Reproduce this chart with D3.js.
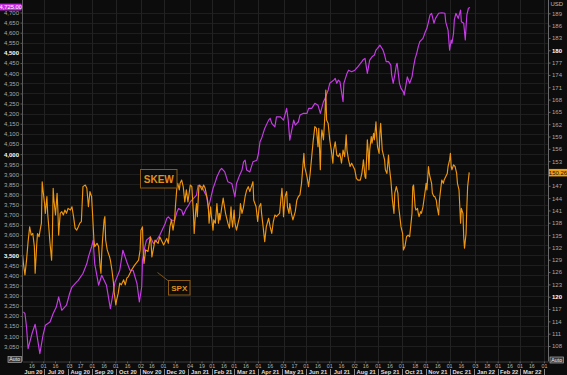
<!DOCTYPE html>
<html><head><meta charset="utf-8">
<script src="https://cdn.jsdelivr.net/npm/d3@7"></script>
<style>html,body{margin:0;padding:0;background:#0c0c0c;overflow:hidden}svg{display:block}</style>
</head><body><svg id="c" width="567" height="375"></svg>
<script>
const spx = [["2020-06-05",3220],["2020-06-07",3212],["2020-06-09",3145],["2020-06-11",3038],["2020-06-16",3113],["2020-06-20",3159],["2020-06-22",3113],["2020-06-26",3014],["2020-06-30",3104],["2020-07-03",3154],["2020-07-09",3170],["2020-07-13",3212],["2020-07-17",3244],["2020-07-20",3294],["2020-07-24",3228],["2020-07-30",3253],["2020-08-03",3311],["2020-08-06",3343],["2020-08-12",3368],["2020-08-14",3376],["2020-08-20",3410],["2020-08-25",3459],["2020-08-27",3492],["2020-08-31",3541],["2020-09-02",3574],["2020-09-04",3459],["2020-09-09",3352],["2020-09-13",3401],["2020-09-19",3352],["2020-09-24",3236],["2020-09-30",3368],["2020-10-06",3426],["2020-10-10",3525],["2020-10-15",3467],["2020-10-19",3426],["2020-10-23",3426],["2020-10-28",3360],["2020-10-31",3269],["2020-11-03",3343],["2020-11-04",3475],["2020-11-07",3541],["2020-11-09",3574],["2020-11-14",3591],["2020-11-18",3558],["2020-11-22",3574],["2020-11-26",3599],["2020-12-03",3657],["2020-12-05",3682],["2020-12-07",3690],["2020-12-11",3673],["2020-12-15",3673],["2020-12-18",3714],["2020-12-20",3731],["2020-12-24",3723],["2020-12-26",3698],["2020-12-30",3731],["2021-01-02",3748],["2021-01-04",3764],["2021-01-12",3797],["2021-01-14",3846],["2021-01-19",3838],["2021-01-25",3789],["2021-01-27",3731],["2021-01-31",3797],["2021-02-02",3830],["2021-02-05",3863],["2021-02-07",3888],["2021-02-09",3904],["2021-02-11",3921],["2021-02-13",3929],["2021-02-17",3912],["2021-02-21",3863],["2021-02-26",3855],["2021-02-28",3822],["2021-03-02",3789],["2021-03-04",3855],["2021-03-08",3896],["2021-03-11",3921],["2021-03-13",3962],["2021-03-15",3970],["2021-03-17",3921],["2021-03-21",3912],["2021-03-23",3937],["2021-03-25",3962],["2021-03-30",3970],["2021-04-01",4003],["2021-04-03",4061],["2021-04-05",4078],["2021-04-09",4127],["2021-04-14",4168],["2021-04-16",4177],["2021-04-18",4152],["2021-04-22",4135],["2021-04-24",4184],["2021-04-29",4184],["2021-05-03",4168],["2021-05-07",4226],["2021-05-09",4168],["2021-05-11",4069],["2021-05-16",4168],["2021-05-18",4143],["2021-05-22",4160],["2021-05-24",4193],["2021-05-28",4201],["2021-06-02",4201],["2021-06-04",4226],["2021-06-08",4226],["2021-06-12",4251],["2021-06-16",4242],["2021-06-19",4201],["2021-06-23",4259],["2021-06-25",4275],["2021-06-29",4317],["2021-07-01",4350],["2021-07-06",4366],["2021-07-08",4374],["2021-07-10",4350],["2021-07-12",4366],["2021-07-14",4358],["2021-07-18",4259],["2021-07-19",4350],["2021-07-23",4399],["2021-07-25",4415],["2021-07-29",4407],["2021-08-02",4415],["2021-08-06",4432],["2021-08-11",4457],["2021-08-13",4468],["2021-08-15",4473],["2021-08-18",4399],["2021-08-21",4465],["2021-08-24",4481],["2021-08-27",4490],["2021-08-29",4514],["2021-08-31",4523],["2021-09-03",4539],["2021-09-07",4514],["2021-09-09",4490],["2021-09-11",4457],["2021-09-14",4457],["2021-09-17",4440],["2021-09-18",4391],["2021-09-20",4350],["2021-09-22",4391],["2021-09-24",4440],["2021-09-25",4449],["2021-09-28",4350],["2021-09-30",4325],["2021-10-03",4308],["2021-10-04",4292],["2021-10-08",4382],["2021-10-11",4350],["2021-10-14",4382],["2021-10-16",4432],["2021-10-18",4473],["2021-10-20",4498],["2021-10-22",4531],["2021-10-24",4556],["2021-10-28",4572],["2021-10-31",4605],["2021-11-02",4622],["2021-11-04",4654],["2021-11-06",4688],["2021-11-08",4696],["2021-11-11",4647],["2021-11-13",4671],["2021-11-17",4696],["2021-11-21",4699],["2021-11-25",4696],["2021-11-26",4654],["2021-11-29",4613],["2021-12-01",4514],["2021-12-03",4564],["2021-12-04",4548],["2021-12-06",4597],["2021-12-07",4663],["2021-12-09",4696],["2021-12-12",4671],["2021-12-15",4712],["2021-12-16",4654],["2021-12-19",4647],["2021-12-21",4564],["2021-12-22",4630],["2021-12-23",4688],["2021-12-25",4721],["2021-12-27",4725]];

const skew = [["2020-06-04",130.2],["2020-06-05",128.1],["2020-06-07",125.3],["2020-06-09",128.9],["2020-06-11",133.4],["2020-06-13",137.0],["2020-06-15",135.0],["2020-06-17",135.4],["2020-06-19",132.2],["2020-06-20",125.7],["2020-06-22",132.6],["2020-06-23",135.4],["2020-06-25",134.6],["2020-06-26",135.8],["2020-06-28",137.9],["2020-06-29",148.0],["2020-06-30",146.0],["2020-07-02",142.7],["2020-07-03",140.3],["2020-07-05",144.4],["2020-07-06",140.3],["2020-07-07",137.9],["2020-07-09",133.0],["2020-07-11",128.9],["2020-07-12",134.6],["2020-07-13",146.4],["2020-07-14",143.5],["2020-07-16",139.9],["2020-07-18",145.2],["2020-07-19",141.1],["2020-07-20",135.0],["2020-07-22",140.3],["2020-07-24",140.7],["2020-07-26",139.9],["2020-07-28",141.1],["2020-07-30",140.3],["2020-08-01",141.5],["2020-08-04",141.1],["2020-08-06",141.9],["2020-08-08",139.5],["2020-08-10",136.7],["2020-08-12",136.2],["2020-08-14",137.0],["2020-08-16",137.9],["2020-08-18",138.3],["2020-08-20",146.8],["2020-08-23",147.2],["2020-08-25",146.4],["2020-08-27",141.9],["2020-08-29",145.6],["2020-08-31",144.4],["2020-09-01",141.1],["2020-09-03",133.8],["2020-09-04",132.2],["2020-09-07",133.0],["2020-09-09",132.2],["2020-09-11",127.3],["2020-09-12",125.7],["2020-09-13",130.6],["2020-09-14",133.8],["2020-09-16",138.7],["2020-09-17",139.5],["2020-09-18",133.8],["2020-09-20",131.4],["2020-09-23",129.7],["2020-09-24",128.9],["2020-09-26",126.5],["2020-09-28",123.3],["2020-09-29",120.8],["2020-10-01",118.0],["2020-10-02",119.2],["2020-10-04",120.8],["2020-10-06",123.3],["2020-10-08",122.9],["2020-10-11",124.1],["2020-10-13",122.9],["2020-10-15",124.5],["2020-10-17",124.9],["2020-10-21",126.5],["2020-10-25",127.7],["2020-10-30",128.9],["2020-11-01",131.4],["2020-11-02",136.2],["2020-11-04",137.0],["2020-11-05",130.6],["2020-11-06",128.1],["2020-11-08",131.4],["2020-11-11",131.0],["2020-11-14",134.6],["2020-11-15",133.0],["2020-11-16",129.7],["2020-11-20",133.8],["2020-11-24",133.0],["2020-11-26",134.6],["2020-12-01",132.6],["2020-12-05",134.2],["2020-12-07",133.0],["2020-12-09",137.0],["2020-12-11",138.7],["2020-12-13",136.2],["2020-12-15",138.7],["2020-12-16",141.9],["2020-12-18",146.8],["2020-12-19",147.6],["2020-12-21",146.0],["2020-12-22",147.6],["2020-12-24",148.4],["2020-12-26",146.8],["2020-12-28",143.1],["2020-12-30",146.0],["2021-01-01",143.1],["2021-01-04",147.2],["2021-01-06",146.8],["2021-01-08",140.3],["2021-01-09",135.4],["2021-01-11",141.1],["2021-01-12",142.7],["2021-01-13",139.5],["2021-01-15",146.8],["2021-01-16",147.2],["2021-01-19",146.0],["2021-01-21",147.2],["2021-01-23",146.4],["2021-01-26",143.5],["2021-01-27",141.9],["2021-01-28",137.9],["2021-01-30",141.9],["2021-01-31",139.5],["2021-02-02",136.2],["2021-02-03",138.7],["2021-02-05",137.9],["2021-02-06",140.3],["2021-02-07",142.7],["2021-02-09",137.9],["2021-02-10",140.3],["2021-02-11",138.7],["2021-02-13",141.5],["2021-02-15",144.0],["2021-02-16",142.7],["2021-02-18",140.3],["2021-02-20",138.7],["2021-02-21",137.9],["2021-02-23",136.7],["2021-02-25",141.9],["2021-02-26",138.7],["2021-02-27",137.0],["2021-03-01",141.1],["2021-03-02",137.9],["2021-03-04",136.2],["2021-03-06",137.9],["2021-03-08",139.5],["2021-03-09",142.7],["2021-03-11",140.3],["2021-03-13",141.9],["2021-03-15",144.4],["2021-03-17",146.0],["2021-03-19",146.8],["2021-03-21",145.6],["2021-03-23",146.8],["2021-03-25",148.0],["2021-03-26",143.5],["2021-03-29",141.9],["2021-03-31",138.3],["2021-04-02",141.9],["2021-04-04",142.7],["2021-04-05",140.3],["2021-04-07",137.0],["2021-04-09",133.4],["2021-04-11",137.0],["2021-04-14",139.1],["2021-04-16",137.0],["2021-04-18",135.4],["2021-04-20",138.3],["2021-04-22",139.9],["2021-04-24",139.5],["2021-04-26",139.9],["2021-04-28",140.3],["2021-05-01",146.4],["2021-05-02",143.5],["2021-05-03",139.5],["2021-05-05",144.4],["2021-05-07",145.6],["2021-05-08",141.9],["2021-05-10",140.3],["2021-05-11",142.7],["2021-05-13",140.3],["2021-05-15",138.7],["2021-05-18",140.7],["2021-05-20",143.5],["2021-05-22",144.4],["2021-05-24",144.8],["2021-05-26",147.6],["2021-05-27",150.0],["2021-05-29",154.9],["2021-05-30",151.7],["2021-06-02",149.2],["2021-06-04",146.8],["2021-06-06",150.0],["2021-06-08",154.1],["2021-06-10",158.2],["2021-06-12",161.4],["2021-06-14",161.0],["2021-06-16",156.5],["2021-06-17",161.0],["2021-06-19",150.9],["2021-06-20",158.2],["2021-06-21",160.6],["2021-06-23",158.2],["2021-06-25",164.7],["2021-06-26",170.3],["2021-06-27",163.0],["2021-06-29",162.2],["2021-07-01",158.2],["2021-07-03",155.7],["2021-07-05",152.5],["2021-07-06",155.7],["2021-07-08",157.7],["2021-07-10",154.5],["2021-07-12",154.1],["2021-07-14",154.9],["2021-07-16",152.5],["2021-07-18",155.7],["2021-07-20",154.1],["2021-07-22",159.4],["2021-07-23",155.7],["2021-07-25",153.3],["2021-07-27",151.7],["2021-07-29",152.5],["2021-07-31",151.7],["2021-08-02",150.9],["2021-08-04",148.8],["2021-08-06",148.4],["2021-08-09",148.4],["2021-08-11",150.0],["2021-08-13",153.3],["2021-08-15",149.2],["2021-08-16",148.8],["2021-08-18",158.2],["2021-08-19",155.7],["2021-08-20",150.9],["2021-08-21",155.7],["2021-08-23",159.0],["2021-08-24",157.4],["2021-08-26",159.8],["2021-08-27",158.2],["2021-08-29",162.6],["2021-08-30",159.0],["2021-08-31",156.5],["2021-09-02",154.9],["2021-09-03",159.8],["2021-09-04",162.2],["2021-09-06",155.7],["2021-09-09",153.3],["2021-09-10",150.9],["2021-09-12",150.0],["2021-09-14",154.5],["2021-09-15",151.7],["2021-09-17",148.4],["2021-09-19",143.5],["2021-09-21",140.3],["2021-09-22",145.2],["2021-09-24",146.8],["2021-09-26",145.2],["2021-09-27",141.9],["2021-09-28",140.3],["2021-09-30",137.0],["2021-10-02",135.4],["2021-10-03",131.4],["2021-10-05",132.2],["2021-10-07",134.6],["2021-10-09",135.0],["2021-10-11",134.6],["2021-10-14",140.3],["2021-10-15",146.8],["2021-10-16",147.2],["2021-10-18",141.9],["2021-10-19",141.1],["2021-10-21",141.5],["2021-10-22",140.3],["2021-10-23",139.5],["2021-10-25",140.7],["2021-10-26",140.3],["2021-10-28",141.9],["2021-10-31",146.0],["2021-11-01",147.6],["2021-11-02",146.0],["2021-11-04",151.7],["2021-11-05",150.0],["2021-11-06",149.2],["2021-11-08",147.6],["2021-11-09",145.2],["2021-11-11",144.4],["2021-11-12",144.4],["2021-11-14",143.5],["2021-11-15",141.9],["2021-11-17",139.9],["2021-11-18",143.5],["2021-11-20",146.8],["2021-11-21",148.4],["2021-11-23",147.6],["2021-11-24",148.4],["2021-11-28",150.0],["2021-11-29",151.7],["2021-12-01",153.3],["2021-12-02",154.9],["2021-12-03",151.7],["2021-12-04",150.9],["2021-12-06",152.1],["2021-12-08",151.7],["2021-12-10",150.0],["2021-12-11",147.6],["2021-12-13",146.0],["2021-12-14",141.9],["2021-12-15",137.9],["2021-12-16",141.5],["2021-12-18",140.3],["2021-12-19",134.6],["2021-12-20",131.8],["2021-12-22",135.4],["2021-12-23",141.9],["2021-12-24",146.8],["2021-12-26",150.26]];

const leftTicks = [3050,3100,3150,3200,3250,3300,3350,3400,3450,3500,3550,3600,3650,3700,3750,3800,3850,3900,3950,4000,4050,4100,4150,4200,4250,4300,4350,4400,4450,4500,4550,4600,4650,4700];
const leftMajor = [3500,4000,4500];
const rightTicks = [108,111,114,117,120,123,126,129,132,135,138,141,144,147,150,153,156,159,162,165,168,171,174,177,180,183,186,189];
const rightMajor = [120,180];
const dayTicks = ["2020-06-16","2020-07-01","2020-07-16","2020-08-03","2020-08-17","2020-09-01","2020-09-16","2020-10-01","2020-10-16","2020-11-02","2020-11-16","2020-12-01","2020-12-16","2021-01-04","2021-01-19","2021-02-01","2021-02-16","2021-03-01","2021-03-16","2021-04-01","2021-04-16","2021-05-03","2021-05-17","2021-06-01","2021-06-16","2021-07-01","2021-07-16","2021-08-02","2021-08-16","2021-09-01","2021-09-16","2021-10-01","2021-10-18","2021-11-01","2021-11-16","2021-12-01","2021-12-16","2022-01-03","2022-01-18","2022-02-01","2022-02-16","2022-03-01","2022-03-16","2022-04-01"];
const months = [["2020-06-01","Jun 20"],["2020-07-01","Jul 20"],["2020-08-01","Aug 20"],["2020-09-01","Sep 20"],["2020-10-01","Oct 20"],["2020-11-01","Nov 20"],["2020-12-01","Dec 20"],["2021-01-01","Jan 21"],["2021-02-01","Feb 21"],["2021-03-01","Mar 21"],["2021-04-01","Apr 21"],["2021-05-01","May 21"],["2021-06-01","Jun 21"],["2021-07-01","Jul 21"],["2021-08-01","Aug 21"],["2021-09-01","Sep 21"],["2021-10-01","Oct 21"],["2021-11-01","Nov 21"],["2021-12-01","Dec 21"],["2022-01-01","Jan 22"],["2022-02-01","Feb 22"],["2022-03-01","Mar 22"],["2022-04-01",""]];
const lastSpx = 4725.00, lastSkew = 150.26;

const parse = d3.timeParse("%Y-%m-%d");
const svg = d3.select("#c");
const FONT = "'Liberation Sans', Arial, sans-serif";
const L = 23, R = 548.5, T = 0, B = 361.5;

const x = d3.scaleTime().domain([new Date(2020,5,4,12), new Date(2022,3,6,5)]).range([L, R]);
const yL = d3.scaleLinear().domain([3050, 4700]).range([346.3, 12.5]);
const yR = d3.scaleLinear().domain([108, 189]).range([346, 13.3]);

svg.append("rect").attr("width",567).attr("height",375).attr("fill","#0c0c0c");

// grid
const grid = svg.append("g");
grid.selectAll("line.h").data(leftTicks).join("line")
  .attr("x1",L).attr("x2",R).attr("y1",d=>Math.round(yL(d))+0.5).attr("y2",d=>Math.round(yL(d))+0.5)
  .attr("stroke","#1e1e1e").attr("stroke-width",1);
const monthTicks = dayTicks.filter(s => +s.slice(8) <= 4);
grid.selectAll("line.v").data(monthTicks).join("line")
  .attr("x1",d=>Math.round(x(parse(d)))+0.5).attr("x2",d=>Math.round(x(parse(d)))+0.5).attr("y1",T).attr("y2",B)
  .attr("stroke","#222").attr("stroke-width",1);

// clip
svg.append("clipPath").attr("id","plot").append("rect").attr("x",L).attr("y",T).attr("width",R-L).attr("height",B-T);

const lineL = d3.line().x(d=>x(parse(d[0]))).y(d=>yL(d[1]));
const lineR = d3.line().x(d=>x(parse(d[0]))).y(d=>yR(d[1]));
const plot = svg.append("g").attr("clip-path","url(#plot)");
plot.append("path").datum(spx).attr("d",lineL).attr("fill","none").attr("stroke","#c83be8").attr("stroke-width",1.15).attr("stroke-linejoin","round");
plot.append("path").datum(skew).attr("d",lineR).attr("fill","none").attr("stroke","#f0960e").attr("stroke-width",1.15).attr("stroke-linejoin","round");

const gy = yL(lastSpx), ry = yR(lastSkew);

// left axis
const ax = svg.append("g").attr("transform",`translate(${L-0.5},0)`)
  .call(d3.axisLeft(yL).tickValues(leftTicks).tickFormat(d3.format(",")).tickSize(2).tickSizeOuter(0));
ax.select(".domain").attr("stroke","#5a5a5a").attr("d",`M0,${T}V${B}`);
ax.selectAll(".tick line").attr("stroke","#5a5a5a");
ax.selectAll(".tick text").attr("x",-3.5).attr("font-family",FONT).attr("font-size",6)
  .attr("fill",d=>leftMajor.includes(d)?"#ffffff":"#a8a8a8").attr("font-weight",d=>leftMajor.includes(d)?"bold":"normal");

// right axis
const ar = svg.append("g").attr("transform",`translate(${R},0)`)
  .call(d3.axisRight(yR).tickValues(rightTicks).tickSize(2).tickSizeOuter(0));
ar.select(".domain").attr("stroke","#6a6a6a").attr("d",`M0,${T}V${B}`);
ar.selectAll(".tick line").attr("stroke","#6a6a6a");
ar.selectAll(".tick text").attr("x",3.5).attr("font-family",FONT).attr("font-size",6)
  .attr("fill",d=>rightMajor.includes(d)?"#ffffff":"#a8a8a8").attr("font-weight",d=>rightMajor.includes(d)?"bold":"normal")
  .filter(d=>Math.abs(yR(d)-ry)<7).remove();
svg.append("text").attr("x",550.5).attr("y",5.5).attr("font-family",FONT).attr("font-size",6).attr("fill","#bbb").text("USD");

// last value boxes
svg.append("rect").attr("x",0).attr("y",gy-3.8).attr("width",21.5).attr("height",6.8).attr("fill","#c32fe0");
svg.append("text").attr("x",10.7).attr("y",gy+1.8).attr("text-anchor","middle").attr("font-family",FONT).attr("font-size",5.8).attr("fill","#fff").text(d3.format(",.2f")(lastSpx));
svg.append("rect").attr("x",549).attr("y",ry-3.5).attr("width",18).attr("height",7.5).attr("fill","#f0a010");
svg.append("text").attr("x",558).attr("y",ry+2.2).attr("text-anchor","middle").attr("font-family",FONT).attr("font-size",6).attr("fill","#111").text(lastSkew.toFixed(2));

// Auto boxes
[[7.5,356],[549.5,356.5]].forEach(([bx,by])=>{
  svg.append("rect").attr("x",bx+0.5).attr("y",by+0.5).attr("width",13.5).attr("height",6).attr("fill","#3a3a3a").attr("stroke","#aaa").attr("stroke-width",0.7);
  svg.append("text").attr("x",bx+7.2).attr("y",by+5.4).attr("text-anchor","middle").attr("font-family",FONT).attr("font-size",5.2).attr("fill","#f0f0f0").text("Auto");
});

// bottom axis
svg.append("line").attr("x1",L).attr("x2",R).attr("y1",B+0.5).attr("y2",B+0.5).attr("stroke","#3a3a3a");
const bx = svg.append("g");
bx.selectAll("line").data(dayTicks).join("line")
  .attr("x1",d=>x(parse(d))).attr("x2",d=>x(parse(d))).attr("y1",B).attr("y2",B+1.8).attr("stroke","#666");
bx.selectAll("text").data(dayTicks).join("text")
  .attr("x",d=>x(parse(d))).attr("y",367.8).attr("text-anchor","middle")
  .attr("font-family",FONT).attr("font-size",5.3).attr("fill","#b5b5b5").text(d=>d.slice(8));
const mg = svg.append("g");
months.slice(0,-1).forEach((m,i)=>{
  const a = Math.max(L, x(parse(m[0]))), b = Math.min(R, x(parse(months[i+1][0])));
  mg.append("text").attr("x",(a+b)/2).attr("y",374.3).attr("text-anchor","middle").attr("font-family",FONT)
    .attr("font-size",5.8).attr("font-weight","bold").attr("fill","#dcdcdc").text(m[1]);
  if (i>0) mg.append("line").attr("x1",Math.round(x(parse(m[0])))+0.5).attr("x2",Math.round(x(parse(m[0])))+0.5).attr("y1",369).attr("y2",375).attr("stroke","#aaa").attr("stroke-width",0.8);
});
svg.append("line").attr("x1",Math.round(x(parse(months[months.length-1][0])))+0.5).attr("x2",Math.round(x(parse(months[months.length-1][0])))+0.5).attr("y1",369).attr("y2",375).attr("stroke","#aaa").attr("stroke-width",0.8);

// annotations
const ann = svg.append("g");
ann.append("rect").attr("x",140.5).attr("y",169.5).attr("width",36.5).attr("height",18.5).attr("fill","#0c0c0c").attr("stroke","#8a5a14").attr("stroke-width",1);
ann.append("text").attr("x",158.8).attr("y",182.6).attr("text-anchor","middle").attr("font-family",FONT).attr("font-size",10).attr("font-weight","bold").attr("fill","#e0901c").text("SKEW");
ann.append("line").attr("x1",157.5).attr("y1",272.5).attr("x2",168.5).attr("y2",281).attr("stroke","#8a5a14").attr("stroke-width",0.9);
ann.append("rect").attr("x",168.5).attr("y",280.5).attr("width",21.5).attr("height",14.5).attr("fill","#0c0c0c").attr("stroke","#8a5a14").attr("stroke-width",1);
ann.append("text").attr("x",179.3).attr("y",290.8).attr("text-anchor","middle").attr("font-family",FONT).attr("font-size",8).attr("font-weight","bold").attr("fill","#e0901c").text("SPX");
</script>
</body></html>
